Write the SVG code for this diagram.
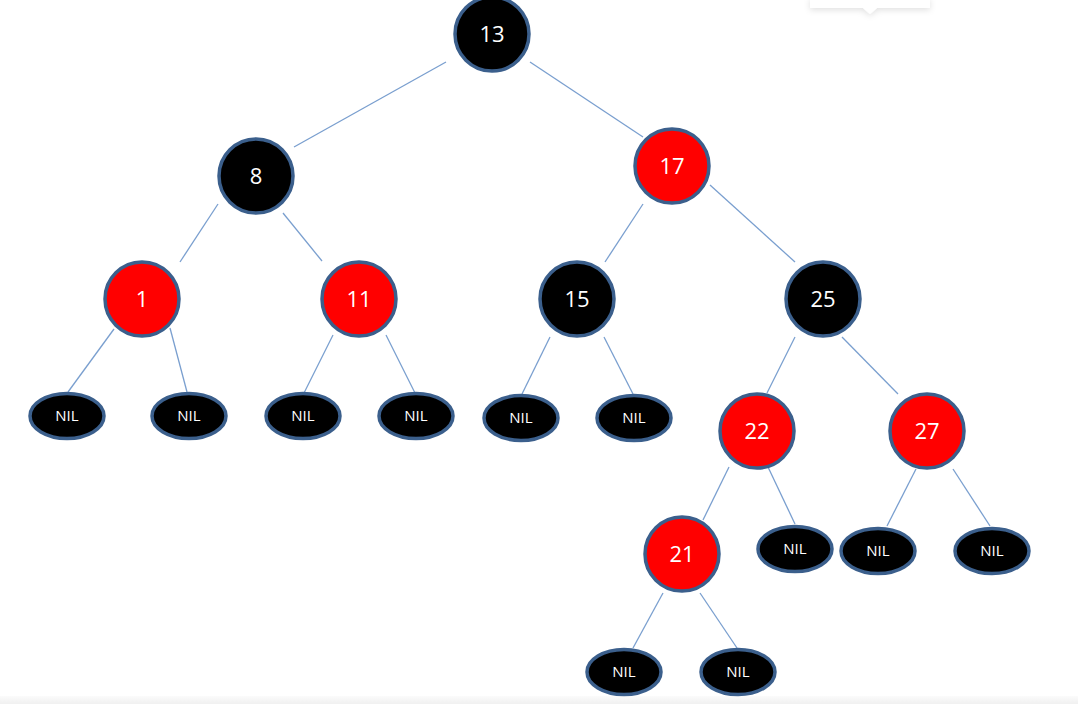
<svg xmlns="http://www.w3.org/2000/svg" width="1078" height="704" viewBox="0 0 1078 704">
<defs>
<style>
.e{stroke:#7a9fcf;stroke-width:1.3;fill:none}
.b{fill:#000;stroke:#3b5f8c;stroke-width:3.5}
.r{fill:#ff0000;stroke:#3b5f8c;stroke-width:3.5}
.t{fill:#fff;font-family:"Open Sans","Noto Sans",sans-serif;font-size:22px;text-anchor:middle}
.n{fill:#fff;font-family:"Open Sans","Noto Sans",sans-serif;font-size:15px;text-anchor:middle}
</style>
<filter id="sh" x="-20%" y="-100%" width="140%" height="300%">
<feDropShadow dx="0" dy="2" stdDeviation="3" flood-color="#000" flood-opacity="0.12"/>
</filter>
<linearGradient id="bot" x1="0" y1="0" x2="0" y2="1">
<stop offset="0" stop-color="#fbfbfb"/>
<stop offset="1" stop-color="#f0f0f0"/>
</linearGradient>
</defs>
<rect width="1078" height="704" fill="#fff"/>
<rect x="0" y="696" width="1078" height="8" fill="url(#bot)"/>
<g filter="url(#sh)">
<path d="M810,-2 H930 V8 H877 L870,14 L863,8 H810 Z" fill="#fff"/>
</g>
<g id="connectors">
<line class="e" x1="446" y1="62" x2="294" y2="147"/>
<line class="e" x1="530" y1="62" x2="643" y2="137"/>
<line class="e" x1="218" y1="204" x2="180" y2="262"/>
<line class="e" x1="283" y1="213" x2="322" y2="261"/>
<line class="e" x1="643" y1="204" x2="605" y2="262"/>
<line class="e" x1="710" y1="185" x2="795" y2="262"/>
<line class="e" x1="114" y1="329" x2="68" y2="392"/>
<line class="e" x1="170" y1="328" x2="187" y2="392"/>
<line class="e" x1="333" y1="335" x2="304" y2="393"/>
<line class="e" x1="386" y1="335" x2="415" y2="393"/>
<line class="e" x1="550" y1="337" x2="522" y2="394"/>
<line class="e" x1="604" y1="337" x2="633" y2="394"/>
<line class="e" x1="795" y1="337" x2="767" y2="393"/>
<line class="e" x1="842" y1="337" x2="898" y2="394"/>
<line class="e" x1="729" y1="467" x2="703" y2="520"/>
<line class="e" x1="768" y1="467" x2="795" y2="524"/>
<line class="e" x1="916" y1="469" x2="887" y2="526"/>
<line class="e" x1="953" y1="469" x2="990" y2="526"/>
<line class="e" x1="663" y1="593" x2="633" y2="648"/>
<line class="e" x1="700" y1="593" x2="737" y2="648"/>
</g>
<g id="n13"><circle class="b" cx="492" cy="34" r="37"/><text class="t" x="492" y="42">13</text></g>
<g id="n8"><circle class="b" cx="256" cy="176" r="37"/><text class="t" x="256" y="184">8</text></g>
<g id="n17"><circle class="r" cx="672" cy="166" r="37"/><text class="t" x="672" y="174">17</text></g>
<g id="n1"><circle class="r" cx="142" cy="299" r="37"/><text class="t" x="142" y="307">1</text></g>
<g id="n11"><circle class="r" cx="359" cy="299" r="37"/><text class="t" x="359" y="307">11</text></g>
<g id="n15"><circle class="b" cx="577" cy="299" r="37"/><text class="t" x="577" y="307">15</text></g>
<g id="n25"><circle class="b" cx="823" cy="299" r="37"/><text class="t" x="823" y="307">25</text></g>
<g id="n22"><circle class="r" cx="757" cy="431" r="37"/><text class="t" x="757" y="439">22</text></g>
<g id="n27"><circle class="r" cx="927" cy="431" r="37"/><text class="t" x="927" y="439">27</text></g>
<g id="n21"><circle class="r" cx="682" cy="554" r="37"/><text class="t" x="682" y="562">21</text></g>
<g id="nil1"><ellipse class="b" cx="67" cy="416" rx="37" ry="22.5"/><text class="n" x="67" y="421">NIL</text></g>
<g id="nil2"><ellipse class="b" cx="189" cy="416" rx="37" ry="22.5"/><text class="n" x="189" y="421">NIL</text></g>
<g id="nil3"><ellipse class="b" cx="303" cy="416" rx="37" ry="22.5"/><text class="n" x="303" y="421">NIL</text></g>
<g id="nil4"><ellipse class="b" cx="416" cy="416" rx="37" ry="22.5"/><text class="n" x="416" y="421">NIL</text></g>
<g id="nil5"><ellipse class="b" cx="521" cy="418" rx="37" ry="22.5"/><text class="n" x="521" y="423">NIL</text></g>
<g id="nil6"><ellipse class="b" cx="634" cy="418" rx="37" ry="22.5"/><text class="n" x="634" y="423">NIL</text></g>
<g id="nil7"><ellipse class="b" cx="795" cy="549" rx="37" ry="22.5"/><text class="n" x="795" y="554">NIL</text></g>
<g id="nil8"><ellipse class="b" cx="878" cy="551" rx="37" ry="22.5"/><text class="n" x="878" y="556">NIL</text></g>
<g id="nil9"><ellipse class="b" cx="992" cy="551" rx="37" ry="22.5"/><text class="n" x="992" y="556">NIL</text></g>
<g id="nil10"><ellipse class="b" cx="624" cy="672" rx="37" ry="22.5"/><text class="n" x="624" y="677">NIL</text></g>
<g id="nil11"><ellipse class="b" cx="738" cy="672" rx="37" ry="22.5"/><text class="n" x="738" y="677">NIL</text></g>
</svg>
